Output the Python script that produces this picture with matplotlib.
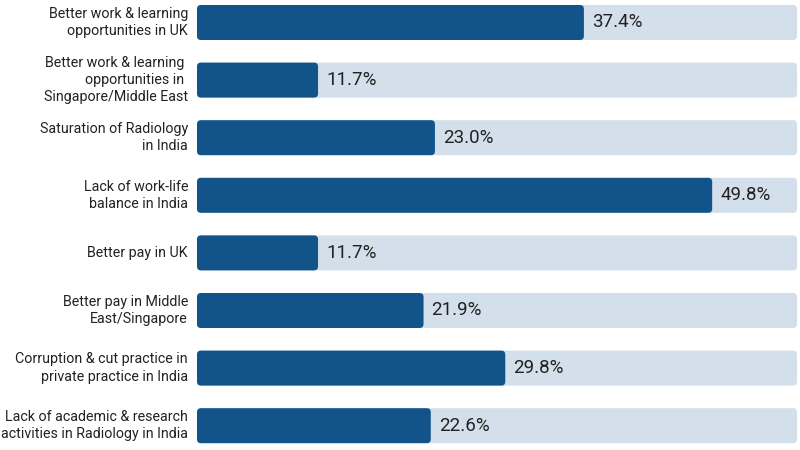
import matplotlib
matplotlib.use("Agg")
import matplotlib.pyplot as plt
from matplotlib.patches import FancyBboxPatch
import matplotlib.transforms as mtransforms

categories = [
    "Better work & learning\nopportunities in UK",
    "Better work & learning \nopportunities in \nSingapore/Middle East",
    "Saturation of Radiology\nin India",
    "Lack of work-life\nbalance in India",
    "Better pay in UK",
    "Better pay in Middle\nEast/Singapore",
    "Corruption & cut practice in\nprivate practice in India",
    "Lack of academic & research\nactivities in Radiology in India",
]
values = [37.4, 11.7, 23.0, 49.8, 11.7, 21.9, 29.8, 22.6]
scale_max = 58

dark = "#12548a"
light = "#d3dfea"
text_color = "#222222"

plt.rcParams['font.family'] = ['Roboto', 'DejaVu Sans']

W, H = 800, 450
fig = plt.figure(figsize=(8, 4.5), dpi=100)
left_px, right_px = 197, 797
ax = fig.add_axes([left_px / W, 0, (right_px - left_px) / W, 1])
row_px = 57.6
first_center = 22.5
y_top = -first_center / row_px
y_bot = (H - first_center) / row_px
ax.set_xlim(0, scale_max)
ax.set_ylim(y_bot, y_top)
ax.axis("off")

x_per_px = scale_max / (right_px - left_px)
y_per_px = (y_bot - y_top) / H
aspect = y_per_px / x_per_px
radius = 4 * x_per_px
bar_h = 35 / row_px

for i, (cat, v) in enumerate(zip(categories, values)):
    bg = FancyBboxPatch((0, i - bar_h / 2), scale_max, bar_h,
                        boxstyle=f"round,pad=0,rounding_size={radius}",
                        mutation_aspect=aspect, fc=light, ec="none")
    ax.add_patch(bg)
    fg = FancyBboxPatch((0, i - bar_h / 2), v, bar_h,
                        boxstyle=f"round,pad=0,rounding_size={radius}",
                        mutation_aspect=aspect, fc=dark, ec="none")
    ax.add_patch(fg)
    ax.text(v, i, f"{v:.1f}%", ha="left", va="center",
            fontsize=13.5, color=text_color,
            transform=ax.transData + mtransforms.ScaledTranslation(8 / 100, 0, fig.dpi_scale_trans))
    ax.text(0, i, cat, ha="right", va="center", fontsize=10.3,
            color=text_color, linespacing=1.3, multialignment="right",
            transform=ax.transData + mtransforms.ScaledTranslation(-9 / 100, 0, fig.dpi_scale_trans))

fig.savefig("out.png", dpi=100, facecolor="white")
